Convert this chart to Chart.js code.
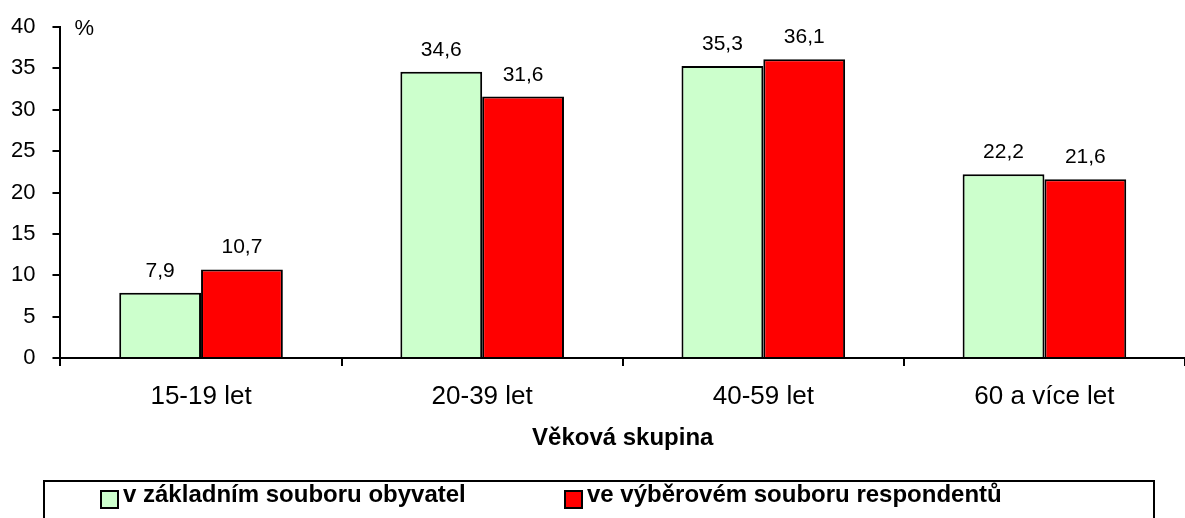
<!DOCTYPE html>
<html>
<head>
<meta charset="utf-8">
<script src="https://cdn.jsdelivr.net/npm/chart.js@4.4.1/dist/chart.umd.min.js"></script>
<style>
  html, body { margin: 0; padding: 0; background: #fff; }
  #wrap { width: 1185px; height: 518px; }
</style>
</head>
<body>
<div id="wrap"><canvas id="grafica"></canvas></div>
<script>
const kategorie = ["15-19 let", "20-39 let", "40-59 let", "60 a více let"];
const obyvatele = [7.9, 34.6, 35.3, 22.2];
const respondenti = [10.7, 31.6, 36.1, 21.6];
const nazvySerii = ["v základním souboru obyvatel", "ve výběrovém souboru respondentů"];
const barvy = ["#ccffcc", "#ff0000"];
const osaY = [0, 5, 10, 15, 20, 25, 30, 35, 40];

const pismo = "'Liberation Sans', Arial, sans-serif";

// popisky nad sloupci
const popiskyPlugin = {
  id: 'popisky',
  afterDatasetsDraw(chart) {
    const ctx = chart.ctx;
    ctx.save();
    ctx.fillStyle = '#000';
    ctx.font = "21px " + pismo;
    ctx.textAlign = 'center';
    ctx.textBaseline = 'alphabetic';
    chart.data.datasets.forEach((ds, i) => {
      chart.getDatasetMeta(i).data.forEach((bar, j) => {
        ctx.fillText(String(ds.data[j]).replace('.', ','), bar.x, bar.y - 16);
      });
    });
    // znak % u osy
    ctx.font = "22px " + pismo;
    ctx.textAlign = 'left';
    ctx.textBaseline = 'middle';
    ctx.fillText('%', chart.chartArea.left + 14, chart.chartArea.top + 2);
    ctx.restore();
  }
};

// vlastni legenda v ramecku
const legendaPlugin = {
  id: 'legenda',
  afterDraw(chart) {
    const ctx = chart.ctx;
    ctx.save();
    ctx.strokeStyle = '#000';
    ctx.lineWidth = 2;
    ctx.strokeRect(44, 481, 1110, 42);
    ctx.font = "bold 24px " + pismo;
    ctx.textBaseline = 'alphabetic';
    const pozice = [101, 565];
    chart.data.datasets.forEach((ds, i) => {
      const x = pozice[i];
      ctx.fillStyle = ds.backgroundColor;
      ctx.fillRect(x, 491, 17, 17);
      ctx.lineWidth = 2;
      ctx.strokeRect(x, 491, 17, 17);
      ctx.fillStyle = '#000';
      ctx.fillText(ds.label, x + 22, 502);
    });
    ctx.restore();
  }
};

new Chart(document.getElementById('grafica').getContext('2d'), {
  type: 'bar',
  data: {
    labels: kategorie,
    datasets: [
      { label: nazvySerii[0], data: obyvatele, backgroundColor: barvy[0], borderColor: '#000', borderWidth: 2 },
      { label: nazvySerii[1], data: respondenti, backgroundColor: barvy[1], borderColor: '#000', borderWidth: 2 }
    ]
  },
  options: {
    responsive: true,
    maintainAspectRatio: false,
    animation: false,
    layout: { padding: { top: 27, right: -3, bottom: 65, left: -6 } },
    datasets: { bar: { categoryPercentage: 0.582, barPercentage: 1.0 } },
    plugins: {
      legend: { display: false },
      tooltip: { enabled: false }
    },
    scales: {
      x: {
        grid: { display: true, drawOnChartArea: false, offset: true, color: '#000', lineWidth: 2, tickLength: 8 },
        border: { display: true, color: '#000', width: 2 },
        ticks: { color: '#000', font: { family: pismo, size: 26 }, padding: 15 },
        title: { display: true, text: 'Věková skupina', color: '#000', font: { family: pismo, size: 24, weight: 'bold' }, padding: { top: -3, bottom: 0 } }
      },
      y: {
        min: 0,
        max: 40,
        afterBuildTicks(axis) { axis.ticks = osaY.map(v => ({ value: v })); },
        grid: { display: true, drawOnChartArea: false, color: '#000', lineWidth: 2, tickLength: 8 },
        border: { display: true, color: '#000', width: 2 },
        ticks: { color: '#000', font: { family: pismo, size: 22, lineHeight: 0.8 }, padding: 17 }
      }
    }
  },
  plugins: [popiskyPlugin, legendaPlugin]
});
</script>
</body>
</html>
